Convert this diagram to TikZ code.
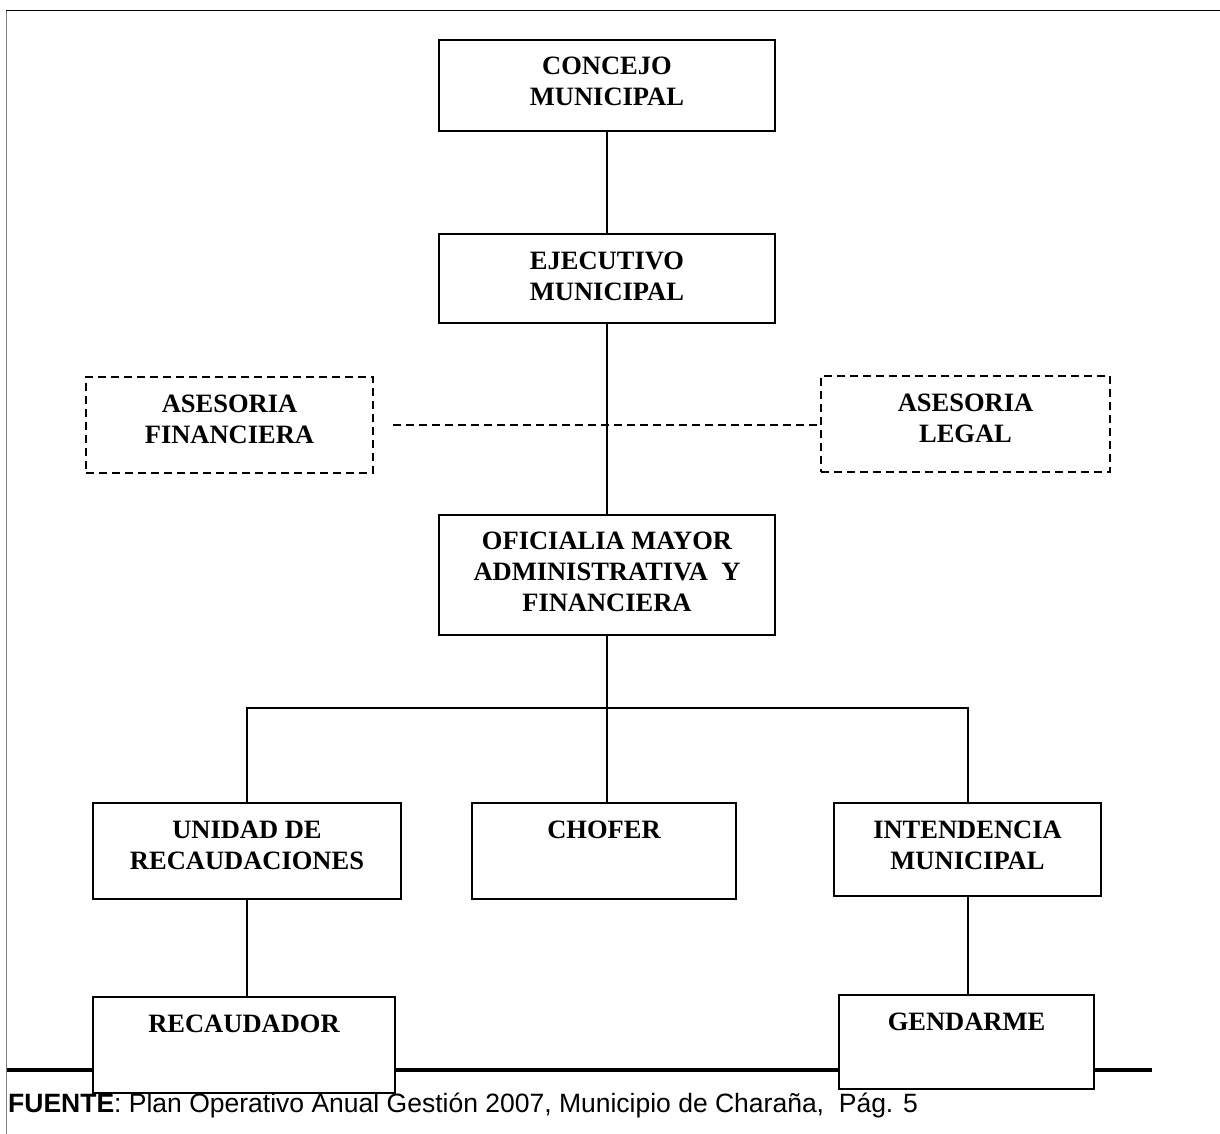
\documentclass[tikz,border=0pt]{standalone}
\usepackage{fontspec}
\setmainfont{Liberation Serif}
\newfontfamily\arialfont{Liberation Sans}
\begin{document}
\begin{tikzpicture}[x=1pt,y=-1pt,
  box/.style={draw=black, line width=2pt, fill=white, inner sep=0pt, rectangle},
  dbox/.style={box, dash pattern=on 8pt off 5pt},
  lbl/.style={font=\fontsize{26.5}{31}\selectfont\bfseries, align=center, anchor=base, inner sep=0pt},
  link/.style={line width=2pt},
]
\useasboundingbox (0,0) rectangle (1220,1134);

% page frame and bottom rule
\draw[line width=1.3pt, color={rgb,255:red,128;green,128;blue,128}] (6.5,10) -- (6.5,1134);
\draw[line width=1.2pt] (6,10.5) -- (1220,10.5);
\draw[line width=3.5pt] (7,1070) -- (1152,1070);

% boxes
\node[box, minimum width=336pt, minimum height=91pt] (concejo) at (607,85.5) {};
\node[box, minimum width=336pt, minimum height=89pt] (ejecutivo) at (607,278.5) {};
\node[box, minimum width=336pt, minimum height=120pt] (oficialia) at (607,575) {};
\node[dbox, minimum width=287pt, minimum height=96pt] (fin) at (229.5,425) {};
\node[dbox, minimum width=289pt, minimum height=96pt] (legal) at (965.5,424) {};
\node[box, minimum width=308pt, minimum height=96pt] (unidad) at (247,851) {};
\node[box, minimum width=264pt, minimum height=96pt] (chofer) at (604,851) {};
\node[box, minimum width=267pt, minimum height=93pt] (intendencia) at (967.5,849.5) {};
\node[box, minimum width=302pt, minimum height=96pt] (recaudador) at (244,1045) {};
\node[box, minimum width=255pt, minimum height=94pt] (gendarme) at (966.5,1042) {};

% box labels: the node base is the last line, the first line sits 36pt below the top edge
\node[lbl] (concejo-t) at ([yshift=-67pt]concejo.north) {CONCEJO\\MUNICIPAL};
\node[lbl] (ejecutivo-t) at ([yshift=-67pt]ejecutivo.north) {EJECUTIVO\\MUNICIPAL};
\node[lbl] (oficialia-t) at ([yshift=-97pt]oficialia.north) {OFICIALIA MAYOR\\ADMINISTRATIVA\ \ Y\\FINANCIERA};
\node[lbl] (fin-t) at ([yshift=-67pt]fin.north) {ASESORIA\\FINANCIERA};
\node[lbl] (legal-t) at ([yshift=-67pt]legal.north) {ASESORIA\\LEGAL};
\node[lbl] (unidad-t) at ([yshift=-67pt]unidad.north) {UNIDAD DE\\RECAUDACIONES};
\node[lbl] (chofer-t) at ([yshift=-36pt]chofer.north) {CHOFER};
\node[lbl] (intendencia-t) at ([yshift=-67pt]intendencia.north) {INTENDENCIA\\MUNICIPAL};
\node[lbl] (recaudador-t) at ([yshift=-36pt]recaudador.north) {RECAUDADOR};
\node[lbl] (gendarme-t) at ([yshift=-36pt]gendarme.north) {GENDARME};

% connectors
\draw[link] (concejo.south) -- (ejecutivo.north);
\draw[link] (ejecutivo.south) -- (oficialia.north);
\draw[link, dash pattern=on 8pt off 5pt] ([xshift=19pt]fin.east) -- (fin.east -| legal.west);
\draw[link] (oficialia.south) -- ++(0,72) coordinate (bus);
\draw[link] (unidad.north) |- (bus) -| (intendencia.north);
\draw[link] (bus) -- (bus |- chofer.north);
\draw[link] (unidad.south) -- (unidad.south |- recaudador.north);
\draw[link] (intendencia.south) -- (intendencia.south |- gendarme.north);

% source line
\node[anchor=base west, inner sep=0pt, font=\arialfont\fontsize{26.5}{30}\selectfont] (fuente) at (8,1112)
  {\textbf{FUENTE}: Plan Operativo Anual Gestión 2007, Municipio de Charaña,\ \ Pág. 5};
\end{tikzpicture}
\end{document}
